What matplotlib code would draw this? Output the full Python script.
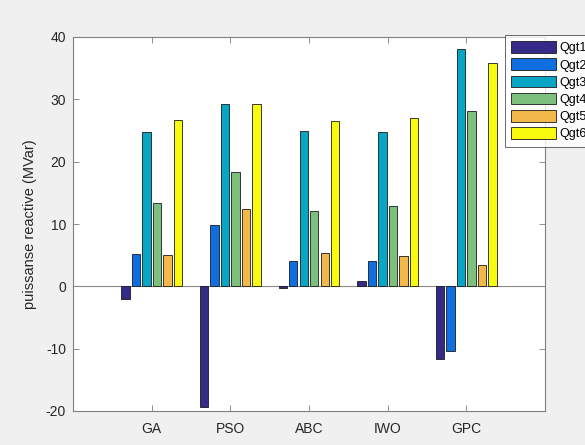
import numpy as np
import matplotlib
matplotlib.use('Agg')
import matplotlib.pyplot as plt

methods = ['GA', 'PSO', 'ABC', 'IWO', 'GPC']
series_names = ['Qgt1', 'Qgt2', 'Qgt3', 'Qgt4', 'Qgt5', 'Qgt6']

# reactive power per generator (MVar), one list per method
qgt_ga = [-2.1, 5.2, 24.8, 13.3, 5.1, 26.7]
qgt_pso = [-19.4, 9.8, 29.3, 18.4, 12.4, 29.3]
qgt_abc = [-0.2, 4.0, 25.0, 12.1, 5.3, 26.5]
qgt_iwo = [0.8, 4.0, 24.8, 12.9, 4.8, 27.0]
qgt_gpc = [-11.6, -10.3, 38.0, 28.1, 3.5, 35.9]

colors = ['#352a87', '#0f6fe0', '#08a6c4', '#7dbf7c', '#f3b84a', '#f9fb0e']

data = np.array([qgt_ga, qgt_pso, qgt_abc, qgt_iwo, qgt_gpc])

plt.rcParams['font.family'] = ['Liberation Sans', 'DejaVu Sans']
plt.rcParams['axes.unicode_minus'] = False

fig = plt.figure(figsize=(5.85, 4.45), dpi=100, facecolor='#f0f0f0')
ax = fig.add_axes([73/585, 1-411/445, (545-73)/585, (411-37)/445])
ax.set_facecolor('white')

x = np.arange(1, len(methods) + 1)
n = len(series_names)
step = 0.8 / n
width = step * 0.8
for i in range(n):
    ax.bar(x + (i - (n - 1) / 2) * step, data[:, i], width,
           color=colors[i], edgecolor='#1a1a1a', linewidth=0.6,
           label=series_names[i], zorder=3)

ax.axhline(0, color='#8a8a8a', linewidth=0.8, zorder=2)

ax.set_xlim(0, 6)
ax.set_ylim(-20, 40)
ax.set_xticks(x)
ax.set_xticklabels(methods)
ax.set_yticks(np.arange(-20, 41, 10))
ax.tick_params(direction='in', length=4, width=0.6, colors='#808080',
               labelcolor='#262626', labelsize=10, top=True, right=True)
ax.tick_params(axis='x', pad=8)
ax.tick_params(axis='y', pad=5)
for s in ax.spines.values():
    s.set_color('#808080')
    s.set_linewidth(0.8)
ax.set_ylabel('puissanse reactive (MVar)', fontsize=10.5, color='#262626',
              labelpad=6)

# legend sits against the right edge of the figure, as in the MATLAB export
leg = ax.legend(loc='upper left', bbox_to_anchor=(505/585, 1-35/445),
                bbox_transform=fig.transFigure, fontsize=9, frameon=True,
                fancybox=False, edgecolor='#262626', handlelength=3.6,
                handleheight=1.05, labelspacing=0.33, handletextpad=0.25,
                borderaxespad=0, borderpad=0.5)
leg.get_frame().set_linewidth(0.6)

fig.savefig('out.png', dpi=100, facecolor=fig.get_facecolor())
